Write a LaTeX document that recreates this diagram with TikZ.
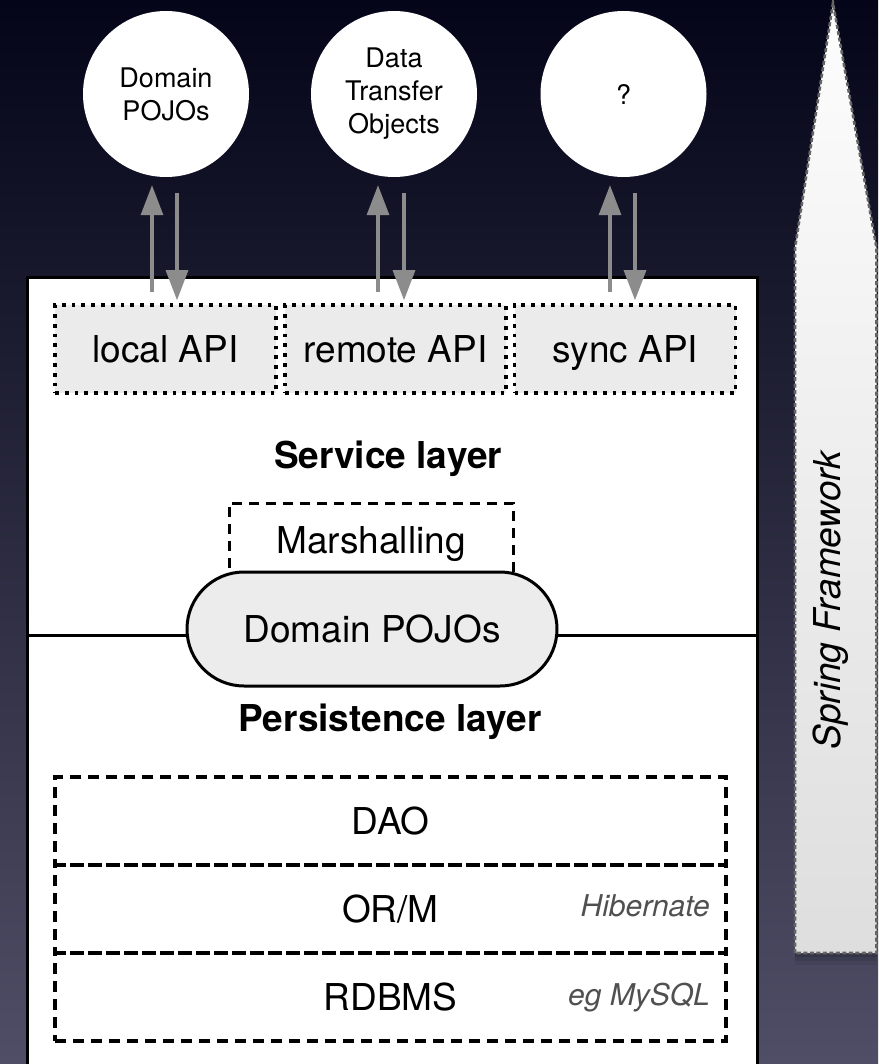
\documentclass[tikz,border=0pt]{standalone}
\usepackage{fontspec}
\setmainfont{TeX Gyre Heros}
\usetikzlibrary{arrows.meta,calc}
\definecolor{bgtop}{RGB}{4,5,24}
\definecolor{bgmid}{RGB}{26,27,52}
\definecolor{bgbot}{RGB}{80,78,102}
\definecolor{apigray}{RGB}{235,235,235}
\definecolor{pillgray}{RGB}{236,236,236}
\definecolor{flowgray}{RGB}{140,140,140}
\definecolor{notegray}{RGB}{80,80,80}
\definecolor{springedge}{RGB}{100,100,100}
\definecolor{springtop}{RGB}{253,253,253}
\definecolor{springbot}{RGB}{222,222,222}
\newcommand{\bigtxt}{\fontsize{37}{44}\selectfont}
\newcommand{\smalltxt}{\fontsize{27}{33}\selectfont}
\newcommand{\notetxt}{\fontsize{30}{36}\selectfont\itshape}
\begin{document}
\begin{tikzpicture}[x=1pt,y=-1pt,
  circ/.style={circle, fill=white, minimum size=166pt, inner sep=0pt, align=center, font=\smalltxt},
  apibox/.style={draw=black, fill=apigray, line width=3.6pt, dash pattern=on 3.8pt off 6pt,
     minimum width=221pt, minimum height=88pt, inner sep=0pt, font=\bigtxt, text height=26.5pt, text depth=0pt},
  flow/.style={draw=flowgray, line width=3.2pt, -{Triangle[length=30pt,width=22pt]}},
  layerlabel/.style={inner sep=0pt, font=\bigtxt\bfseries, text height=26.5pt, text depth=0pt},
  dbox/.style={draw=black, line width=3.3pt, dash pattern=on 11pt off 7pt,
     minimum width=671pt, minimum height=88pt, inner sep=0pt, font=\bigtxt, text height=26.5pt, text depth=0pt},
  note/.style={inner sep=0pt, anchor=east, font=\notetxt, text=notegray, text height=21.5pt, text depth=0pt},
  pill/.style={draw=black, line width=3pt, fill=pillgray, rounded corners=57pt,
     minimum width=370pt, minimum height=114pt, inner sep=0pt, font=\bigtxt, text height=26.5pt, text depth=0pt},
  mbox/.style={draw=black, line width=3pt, dash pattern=on 10pt off 7pt, fill=white,
     minimum width=284pt, minimum height=74pt, inner sep=0pt, font=\bigtxt, text height=26.5pt, text depth=0pt}
]
\useasboundingbox (0,0) rectangle (878,1064);
\clip (0,0) rectangle (878,1064);
% background
\shade[top color=bgtop, middle color=bgmid, bottom color=bgbot] (0,0) rectangle (878,1064);

% Spring framework arrow with soft shadow
\foreach \s/\o in {12/0.06,8/0.09,4/0.12}{
  \fill[black,opacity=\o] (795,953+\s) -- (795,248) -- (876.5,248) -- (876.5,953+\s) -- cycle;
}
\shade[top color=springtop, bottom color=springbot]
  (795,953) -- (795,248) -- (833,3) -- (876.5,248) -- (876.5,953) -- cycle;
\draw[springedge, line width=2.6pt, dash pattern=on 4pt off 2.5pt]
  (795,953) -- (795,248) -- (833,3) -- (876.5,248) -- (876.5,953) -- cycle;
\node[rotate=90, inner sep=0pt, font=\bigtxt\itshape] (spring) at (831,600) {Spring Framework};

% main white box
\node[draw=black, fill=white, line width=3pt, minimum width=730pt, minimum height=800pt, inner sep=0pt] (main) at (392,678) {};

% top circles
\node[circ] (dom1) at (166,94) {Domain\\POJOs};
\node[circ] (dto) at (394,94) {Data\\Transfer\\Objects};
\node[circ] (unk) at (623.5,94) {?};

% API boxes
\node[apibox] (lapi) at (165.5,349) {local API};
\node[apibox] (rapi) at (395.5,349) {remote API};
\node[apibox] (sapi) at (625,349) {sync API};

% arrows
\coordinate (u1) at (152,292); \coordinate (d1) at (177,0);
\coordinate (u2) at (378,292); \coordinate (d2) at (404,0);
\coordinate (u3) at (610,292); \coordinate (d3) at (635,0);
\draw[flow, shorten >=8pt] (u1) -- (u1 |- dom1.south);
\draw[flow, shorten <=16pt, shorten >=3pt] (d1 |- dom1.south) -- (d1 |- lapi.north);
\draw[flow, shorten >=8pt] (u2) -- (u2 |- dto.south);
\draw[flow, shorten <=16pt, shorten >=3pt] (d2 |- dto.south) -- (d2 |- rapi.north);
\draw[flow, shorten >=8pt] (u3) -- (u3 |- unk.south);
\draw[flow, shorten <=16pt, shorten >=3pt] (d3 |- unk.south) -- (d3 |- sapi.north);

% service layer
\node[layerlabel] (svc) at (388,455) {Service layer};
\node[mbox] (marsh) at (371,540) {Marshalling};

% dividing line and Domain POJOs pill
\coordinate (lineL) at (27,635);
\draw[line width=3pt] (lineL) -- (lineL -| main.east);
\node[pill] (pojo) at (372,629) {Domain POJOs};

% persistence layer
\node[layerlabel] (pers) at (390,718) {Persistence layer};
\node[dbox] (dao) at (390.5,821) {DAO};
\node[dbox] (orm) at (390.5,909) {OR/M};
\node[dbox] (rdb) at (390.5,997) {RDBMS};
\node[note] (hib) at (710,906) {Hibernate};
\node[note] (mysql) at (710,995) {eg MySQL};
\end{tikzpicture}
\end{document}
